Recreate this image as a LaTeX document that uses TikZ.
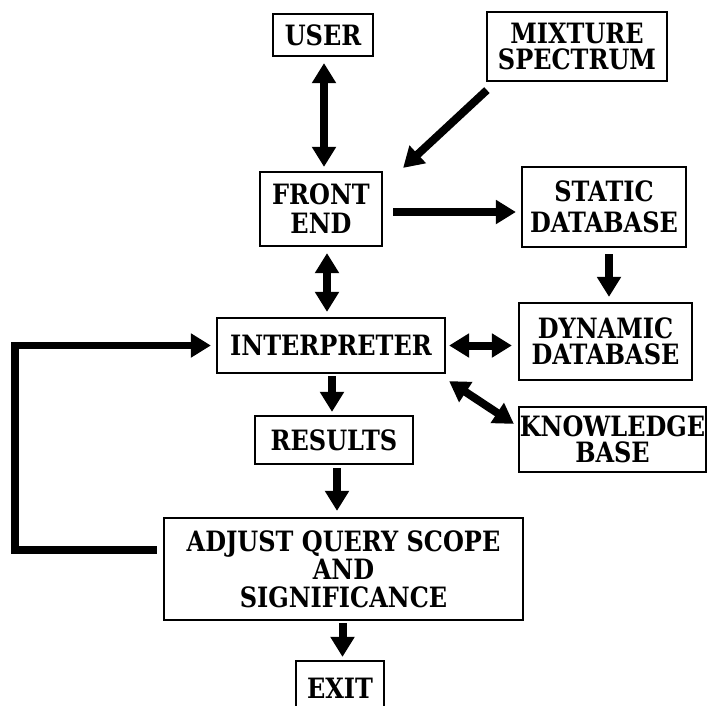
\documentclass[tikz,border=0pt]{standalone}
\usepackage{fontspec}
\setmainfont{DejaVu Serif}[FakeStretch=0.857]
\usetikzlibrary{arrows.meta}
\begin{document}
\begin{tikzpicture}[x=1pt,y=-1pt]
\tikzset{
  box/.style={draw, line width=2.2pt, inner sep=0pt, align=center,
    font=\bfseries\fontsize{28}{#1}\selectfont},
  box/.default=27,
  frame/.style={line width=2.2pt},
  tip/.tip={Triangle[width=23pt,length=20pt]},
  link/.style={line width=8pt, -tip},
  both/.style={line width=8pt, tip-tip},
  loopline/.style={line width=7.5pt, line join=miter, -tip},
}
\clip (0,0) rectangle (708,705);
\fill[white] (0,0) rectangle (708,705);

% boxes
\node[box, minimum width=100pt, minimum height=42pt] (user) at (323,35) {USER};
\node[box=26, minimum width=180pt, minimum height=69pt] (mix) at (577,46.5) {MIXTURE\\SPECTRUM};
\node[box=29, minimum width=122pt, minimum height=74pt] (front) at (321,209) {FRONT\\END};
\node[box=31, minimum width=164pt, minimum height=80pt] (static) at (604,207) {STATIC\\DATABASE};
\node[box, minimum width=228pt, minimum height=55pt] (interp) at (331,345.5) {INTERPRETER};
\node[box=26, minimum width=173pt, minimum height=77pt] (dyn) at (605.5,341.5) {DYNAMIC\\DATABASE};
\node[box=26, minimum width=187pt, minimum height=65pt] (know) at (612.5,439.5) {KNOWLEDGE\\BASE};
\node[box, minimum width=158pt, minimum height=48pt] (res) at (334,440) {RESULTS};
\node[box=28, minimum width=359pt, minimum height=102pt] (adj) at (343.5,569) {ADJUST QUERY SCOPE\\AND\\SIGNIFICANCE};
% the exit box runs past the lower edge, so its frame is drawn open at the bottom
\node[box, draw=none, minimum width=86pt, minimum height=30pt] (exit) at (340,688) {EXIT};
\draw[frame] ([shift={(0,20)}]exit.south west) |- ([shift={(0,-11)}]exit.north) -| ([shift={(0,20)}]exit.south east);

% connectors
\draw[both, shorten <=6pt, shorten >=4pt] ([shift={(1,0)}]user.south) -- ([shift={(1,0)}]user.south |- front.north);
\draw[link] ([shift={(1,8)}]mix.south west) -- ([shift={(20,-3)}]front.north east);
\draw[link, shorten <=10pt, shorten >=5pt] ([shift={(0,3)}]front.east) -- ([shift={(0,3)}]front.east -| static.west);
\draw[both, shorten <=6pt, shorten >=5pt] ([shift={(6,0)}]front.south) -- ([shift={(6,0)}]front.south |- interp.north);
\draw[link, shorten <=6pt, shorten >=5pt] ([shift={(5,0)}]static.south) -- ([shift={(5,0)}]static.south |- dyn.north);
\draw[both, shorten <=3pt, shorten >=6pt] (interp.east) -- (interp.east -| dyn.west);
\draw[both] ([shift={(3,7)}]interp.south east) -- ([shift={(-4,18)}]know.north west);
\draw[link, shorten <=2pt, shorten >=3pt] ([shift={(1,0)}]interp.south) -- ([shift={(1,0)}]interp.south |- res.north);
\draw[link, shorten <=3pt, shorten >=6pt] ([shift={(3,0)}]res.south) -- ([shift={(3,0)}]res.south |- adj.north);
\draw[link, shorten <=2pt, shorten >=15pt] ([shift={(-1,0)}]adj.south) -- ([shift={(-1,0)}]adj.south |- exit.north);

% feedback loop
\coordinate (fbc) at (15,345.5);
\draw[loopline, shorten >=5pt] ([shift={(-6,-19)}]adj.west) -| (fbc) -- (interp.west);
\end{tikzpicture}
\end{document}
